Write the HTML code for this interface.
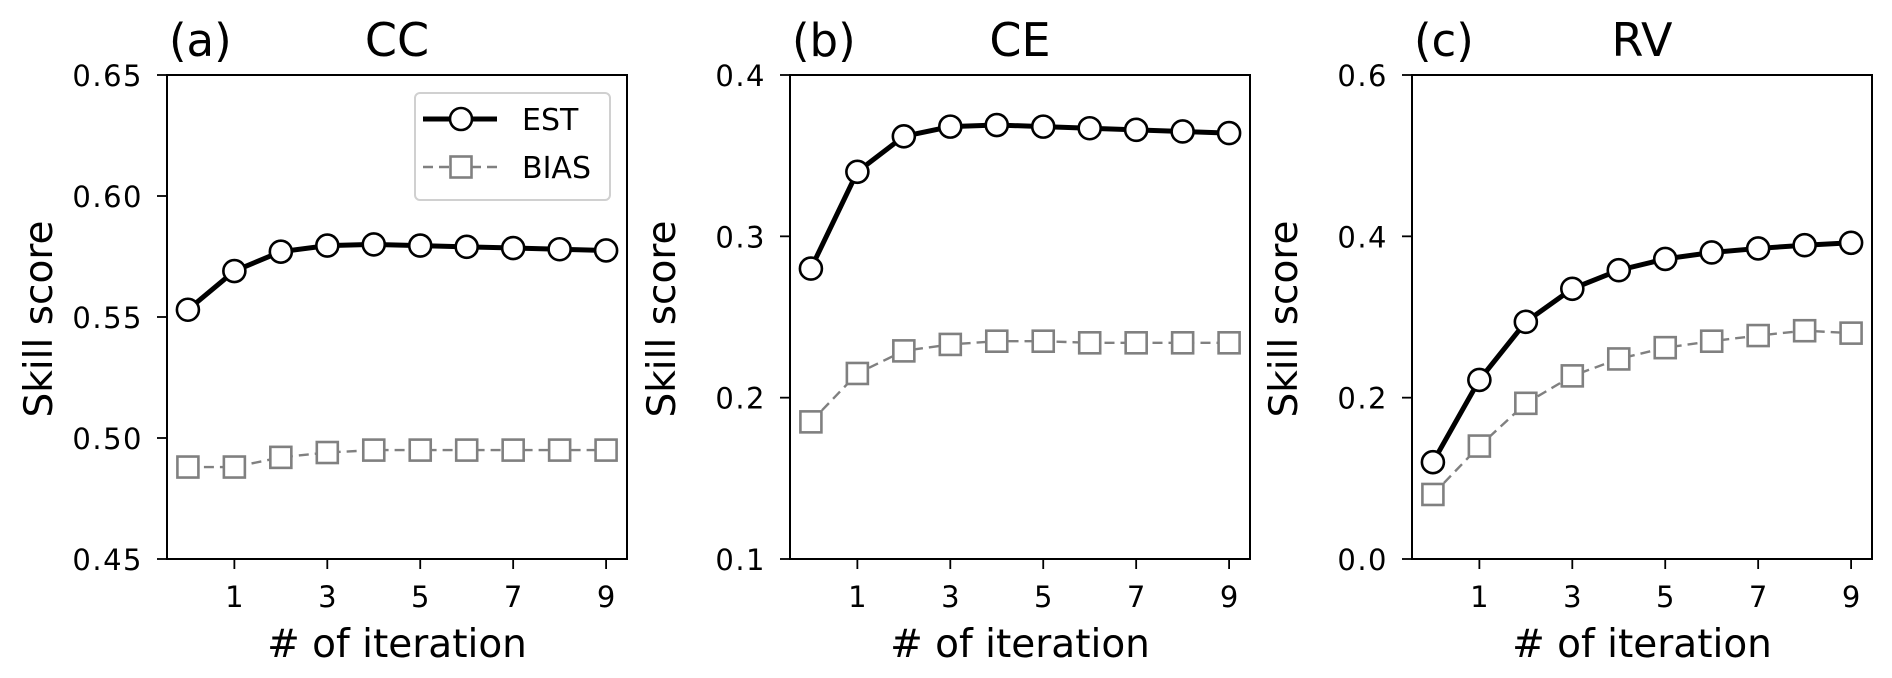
<!DOCTYPE html>
<html><head><meta charset="utf-8"><style>
html,body{margin:0;padding:0;background:#fff;}
svg{display:block;font-family:"DejaVu Sans","Liberation Sans",sans-serif;}
</style></head><body>
<svg id="fig" width="1892" height="678" viewBox="0 0 1892 678" xmlns="http://www.w3.org/2000/svg"></svg>
<script>
const iterations = [0,1,2,3,4,5,6,7,8,9];
const xTicks = [1,3,5,7,9];
const ccEst = [0.553,0.569,0.577,0.5795,0.580,0.5795,0.579,0.5785,0.578,0.5775];
const ccBias = [0.488,0.488,0.492,0.494,0.495,0.495,0.495,0.495,0.495,0.495];
const ceEst = [0.280,0.340,0.362,0.368,0.369,0.368,0.367,0.366,0.365,0.364];
const ceBias = [0.185,0.215,0.229,0.233,0.235,0.235,0.234,0.234,0.234,0.234];
const rvEst = [0.120,0.222,0.294,0.335,0.358,0.372,0.380,0.385,0.389,0.392];
const rvBias = [0.080,0.140,0.193,0.227,0.248,0.262,0.270,0.277,0.283,0.280];
const ccTicks = ["0.45","0.50","0.55","0.60","0.65"];
const ceTicks = ["0.1","0.2","0.3","0.4"];
const rvTicks = ["0.0","0.2","0.4","0.6"];

const NS="http://www.w3.org/2000/svg";
const svg=document.getElementById('fig');
function mk(tag,attrs,parent){const e=document.createElementNS(NS,tag);for(const k in attrs)e.setAttribute(k,attrs[k]);(parent||svg).appendChild(e);return e;}

const panels=[
 {left:167,tag:"(a)",title:"CC",est:ccEst,bias:ccBias,ticks:ccTicks,ymin:0.45,ymax:0.65,legend:true,key:"cc"},
 {left:790,tag:"(b)",title:"CE",est:ceEst,bias:ceBias,ticks:ceTicks,ymin:0.1,ymax:0.4,legend:false,key:"ce"},
 {left:1412,tag:"(c)",title:"RV",est:rvEst,bias:rvBias,ticks:rvTicks,ymin:0.0,ymax:0.6,legend:false,key:"rv"}
];
const TOP=75,BOT=559,W=460;
panels.forEach(p=>{
 const g=mk('g',{});
 
 
 const xs=v=>p.left+(v+0.45)/9.9*W;
 const ys=v=>BOT-(v-p.ymin)/(p.ymax-p.ymin)*(BOT-TOP);
 p.ticks.forEach(t=>{const v=parseFloat(t);const y=ys(v);
  const l=mk('line',{x1:p.left-10,x2:p.left,y1:y,y2:y,stroke:'#000','stroke-width':1.8},g);
  
  
  const tx=mk('text',{x:p.left-24,y:y+11,'font-size':29,'letter-spacing':1.5,'text-anchor':'end'},g);tx.textContent=t;
  
  
 });
 xTicks.forEach(t=>{const x=xs(t);
  const l=mk('line',{x1:x,x2:x,y1:BOT,y2:BOT+10,stroke:'#000','stroke-width':1.8},g);
  
  
  const tx=mk('text',{x:x,y:BOT+48,'font-size':29,'text-anchor':'middle'},g);tx.textContent=t;
  
  
 });
 const bp=iterations.map(i=>xs(i)+','+ys(p.bias[i])).join(' ');
 const bl=mk('polyline',{points:bp,fill:'none',stroke:'#808080','stroke-width':2.4,'stroke-dasharray':'10,6'},g);
 
 
 iterations.forEach(i=>{
  const r=mk('rect',{x:xs(i)-10.5,y:ys(p.bias[i])-10.5,width:21,height:21,fill:'#fff',stroke:'#808080','stroke-width':2.6},g);
  
  
 });
 const ep=iterations.map(i=>xs(i)+','+ys(p.est[i])).join(' ');
 const el=mk('polyline',{points:ep,fill:'none',stroke:'#000','stroke-width':5},g);
 
 
 iterations.forEach(i=>{
  const c=mk('circle',{cx:xs(i),cy:ys(p.est[i]),r:11,fill:'#fff',stroke:'#000','stroke-width':2.6},g);
  
  
 });
 const fr=mk('rect',{x:p.left,y:TOP,width:W,height:BOT-TOP,fill:'none',stroke:'#000','stroke-width':2},g);
 
 
 const tg=mk('text',{x:p.left+2,y:56,'font-size':45},g);tg.textContent=p.tag;
 
 
 const tt=mk('text',{x:p.left+W/2,y:56,'font-size':46,'text-anchor':'middle'},g);tt.textContent=p.title;
 
 
 const xl=mk('text',{x:p.left+W/2,y:657,'font-size':39,'text-anchor':'middle'},g);xl.textContent='# of iteration';
 
 
 const yx=p.left-115, yc=319;
 const yl=mk('text',{x:yx,y:yc,'font-size':39,'text-anchor':'middle',transform:`rotate(-90 ${yx} ${yc})`},g);yl.textContent='Skill score';
 
 
 if(p.legend){
  const lg=mk('g',{},g);
  
  
  mk('rect',{x:415,y:93,width:195,height:107,rx:5,fill:'#fff',stroke:'#d0d0d0','stroke-width':2},lg);
  mk('line',{x1:423,x2:497,y1:119,y2:119,stroke:'#000','stroke-width':5},lg);
  mk('circle',{cx:461,cy:119,r:11,fill:'#fff',stroke:'#000','stroke-width':2.6},lg);
  const t1=mk('text',{x:522,y:130,'font-size':30},lg);t1.textContent='EST';
  
  
  mk('line',{x1:423,x2:497,y1:167,y2:167,stroke:'#808080','stroke-width':2.4,'stroke-dasharray':'10,6'},lg);
  mk('rect',{x:450.5,y:156.5,width:21,height:21,fill:'#fff',stroke:'#808080','stroke-width':2.6},lg);
  const t2=mk('text',{x:522,y:178,'font-size':30},lg);t2.textContent='BIAS';
  
  
 }
});
</script>
</body></html>
